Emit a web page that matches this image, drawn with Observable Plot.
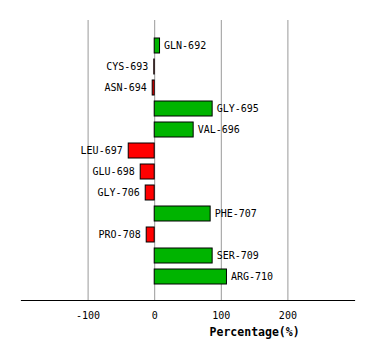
<!DOCTYPE html>
<html>
<head>
<meta charset="utf-8">
<script src="https://cdn.jsdelivr.net/npm/d3@7"></script>
<script src="https://cdn.jsdelivr.net/npm/@observablehq/plot@0.6"></script>
<style>
  html, body { margin: 0; padding: 0; background: #fff; }
  svg { display: block; }
</style>
</head>
<body>
<div id="chart"></div>
<script>
const residues = ["GLN-692","CYS-693","ASN-694","GLY-695","VAL-696","LEU-697","GLU-698","GLY-706","PHE-707","PRO-708","SER-709","ARG-710"];
const percentages = [8, -0.6, -3, 87, 58.5, -39, -21, -13.5, 84, -12, 87, 108.5];
const xTicks = [-100, 0, 100, 200];
const xLabel = "Percentage(%)";

const data = residues.map((r, i) => ({residue: r, value: percentages[i]}));
const font = "DejaVu Sans Mono, monospace";

const chart = Plot.plot({
  width: 374,
  height: 360,
  marginLeft: 21,
  marginRight: 20,
  marginTop: 20,
  marginBottom: 60,
  style: {fontFamily: font, fontSize: "10px", background: "#fff", color: "#000"},
  x: {domain: [-200, 300], axis: null},
  y: {domain: residues, range: [35, 286.5], paddingInner: 0.3, paddingOuter: 0, axis: null},
  marks: [
    Plot.ruleX(xTicks, {x: d => d, stroke: "#999", strokeWidth: 1}),
    Plot.frame({anchor: "bottom", stroke: "#000", strokeWidth: 1.2}),
    Plot.text(xTicks, {x: d => d, frameAnchor: "bottom", dy: 18, text: d => String(d), fontSize: 10, fill: "#000"}),
    Plot.barX(data, {x: "value", y: "residue", fill: d => d.value >= 0 ? "#00b400" : "#ff0000", stroke: "#000", strokeWidth: 1}),
    Plot.text(data.filter(d => d.value >= 0), {x: "value", y: "residue", text: "residue", textAnchor: "start", dx: 4, fontSize: 10, fill: "#000"}),
    Plot.text(data.filter(d => d.value < 0), {x: "value", y: "residue", text: "residue", textAnchor: "end", dx: -6, fontSize: 10, fill: "#000"}),
    Plot.text([xLabel], {x: 150, frameAnchor: "bottom", text: d => d, dy: 35, fontSize: 11.5, fontWeight: "bold", fill: "#000"})
  ]
});
document.getElementById("chart").appendChild(chart);
</script>
</body>
</html>
